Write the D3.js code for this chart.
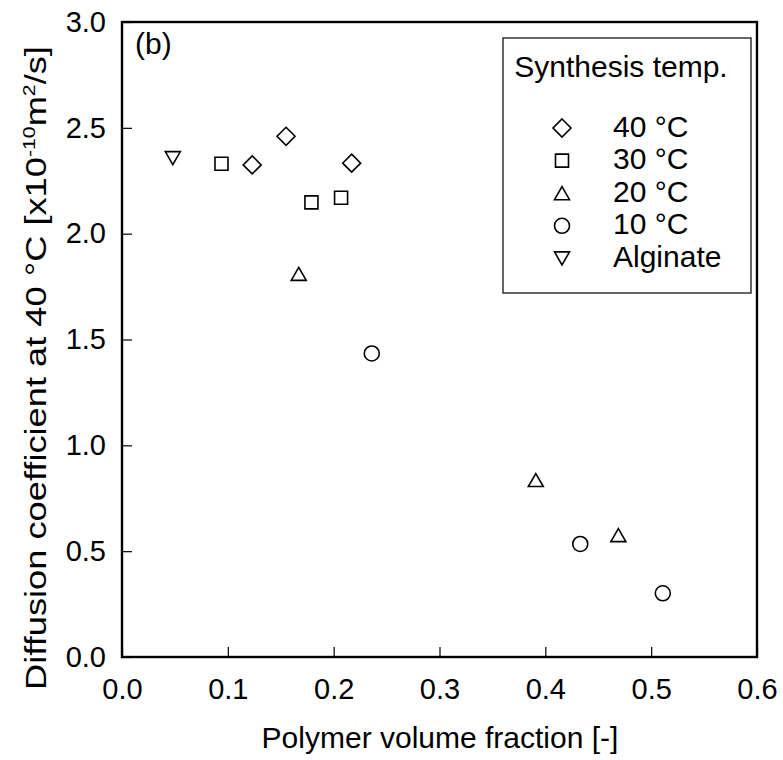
<!DOCTYPE html>
<html><head><meta charset="utf-8">
<script src="https://cdn.jsdelivr.net/npm/d3@7"></script>
<style>body{margin:0;background:#fff}svg{display:block}text{font-family:"Liberation Sans",Arial,sans-serif;fill:#000}</style>
</head><body>
<svg id="c" width="783" height="760"></svg>
<script>
const xTicks=[0,0.1,0.2,0.3,0.4,0.5,0.6];
const yTicks=[0,0.5,1.0,1.5,2.0,2.5,3.0];
const legendLabels=["40 °C","30 °C","20 °C","10 °C","Alginate"];
const seriesKeys=["diamond","square","triUp","circle","triDown"];
const s40x=[0.123,0.155,0.217];
const s40y=[2.325,2.46,2.333];
const s30x=[0.094,0.179,0.207];
const s30y=[2.33,2.148,2.17];
const s20x=[0.167,0.391,0.469];
const s20y=[1.81,0.836,0.576];
const s10x=[0.236,0.433,0.511];
const s10y=[1.434,0.534,0.301];
const algX=[0.048];
const algY=[2.357];

const svg=d3.select("#c");
const L=122,R=757,T=22,B=657;
const x=d3.scaleLinear().domain([0,0.6]).range([L,R]);
const y=d3.scaleLinear().domain([0,3]).range([B,T]);

const FS=29;
const xAxis=svg.append("g").attr("transform",`translate(0,${B})`)
 .call(d3.axisBottom(x).tickValues(xTicks).tickSizeInner(-10).tickSizeOuter(0).tickPadding(21).tickFormat(d3.format(".1f")));
const yAxis=svg.append("g").attr("transform",`translate(${L},0)`)
 .call(d3.axisLeft(y).tickValues(yTicks).tickSizeInner(-10).tickSizeOuter(0).tickPadding(16).tickFormat(d3.format(".1f")));
[xAxis,yAxis].forEach(a=>{a.select(".domain").remove();a.selectAll("line").attr("stroke","#000").attr("stroke-width",1.2);
 a.selectAll("text").style("font-size",FS+"px").style("font-family",'"Liberation Sans",Arial,sans-serif');});
xAxis.selectAll("text").attr("dy","0.71em");

svg.append("rect").attr("x",L).attr("y",T).attr("width",R-L).attr("height",B-T)
 .attr("fill","none").attr("stroke","#000").attr("stroke-width",2.4);

function sym(g,key,cx,cy){
 let p;
 if(key==="diamond"){const r=9;p=`M${cx},${cy-r}L${cx+r},${cy}L${cx},${cy+r}L${cx-r},${cy}Z`;}
 else if(key==="square"){const r=6.5;p=`M${cx-r},${cy-r}h${2*r}v${2*r}h${-2*r}Z`;}
 else if(key==="triUp"){const w=7.5,h=6.5;p=`M${cx},${cy-h}L${cx+w},${cy+h}L${cx-w},${cy+h}Z`;}
 else if(key==="triDown"){const w=7.5,h=6.5;p=`M${cx-w},${cy-h}L${cx+w},${cy-h}L${cx},${cy+h}Z`;}
 if(key==="circle"){g.append("circle").attr("cx",cx).attr("cy",cy).attr("r",7.5).attr("fill","none").attr("stroke","#000").attr("stroke-width",1.6);}
 else g.append("path").attr("d",p).attr("fill","none").attr("stroke","#000").attr("stroke-width",1.6).attr("stroke-linejoin","miter");
}
const series=[[s40x,s40y],[s30x,s30y],[s20x,s20y],[s10x,s10y],[algX,algY]];
const pg=svg.append("g");
series.forEach((s,i)=>s[0].forEach((xv,j)=>sym(pg,seriesKeys[i],x(xv),y(s[1][j]))));

svg.append("text").attr("x",135).attr("y",54).style("font-size","30px").text("(b)");

const lg=svg.append("g");
lg.append("rect").attr("x",503).attr("y",38).attr("width",248).attr("height",255).attr("fill","#fff").attr("stroke","#000").attr("stroke-width",1.2);
lg.append("text").attr("x",621).attr("y",77).attr("text-anchor","middle").style("font-size","30px").text("Synthesis temp.");
legendLabels.forEach((t,i)=>{
 const cy=128+i*32.6;
 sym(lg,seriesKeys[i],562,cy);
 lg.append("text").attr("x",613).attr("y",cy+8.5).style("font-size","30px").text(t);
});

svg.append("text").attr("x",440).attr("y",748).attr("text-anchor","middle").style("font-size","30px").text("Polymer volume fraction [-]");
const yt=svg.append("text").attr("transform","translate(46,368) rotate(-90) scale(1.25,1)").attr("text-anchor","middle").style("font-size","29px");
yt.append("tspan").text("Diffusion coefficient at 40 °C [x10");
yt.append("tspan").attr("dy",-11).style("font-size","17px").text("-10");
yt.append("tspan").attr("dy",11).text("m");
yt.append("tspan").attr("dy",-11).style("font-size","17px").text("2");
yt.append("tspan").attr("dy",11).text("/s]");
</script>
</body></html>
